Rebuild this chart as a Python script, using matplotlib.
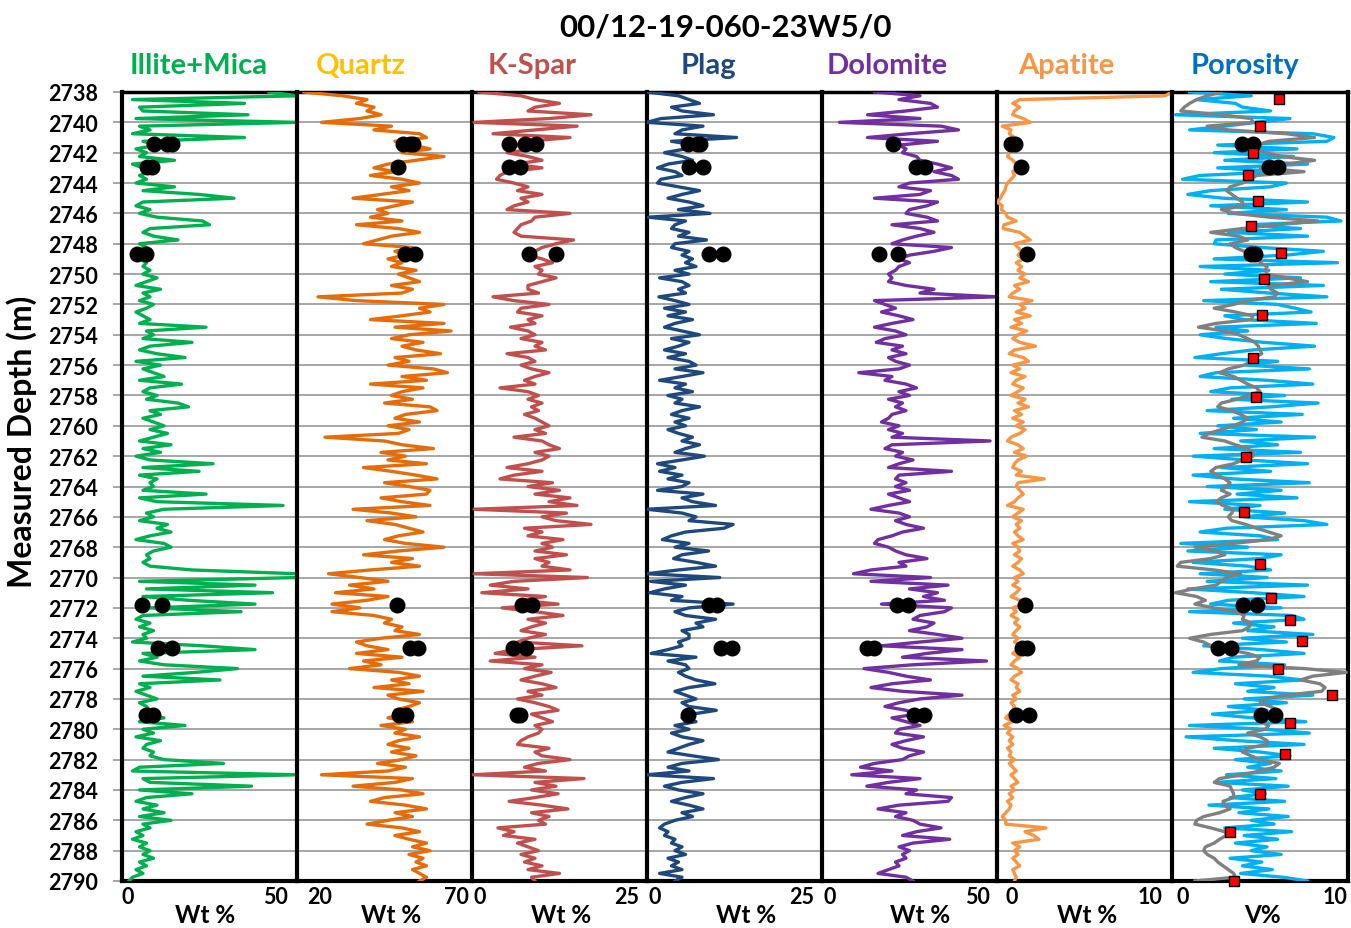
import numpy as np
import matplotlib.pyplot as plt

plt.rcParams['font.family'] = ['Lato', 'DejaVu Sans']
plt.rcParams['font.weight'] = 'bold'

# Well log curves, sampled every 0.25 m from 2738 to 2790 m (one row = 2 m).
illite = [42, 50, 3, 35, 5, 6, 36, 4,
          50, 5, 8, 3, 35, 6, 10, 4,
          7, 5, 15, 3, 6, 8, 5, 7,
          4, 15, 6, 22, 32, 6, 4, 8,
          5, 10, 23, 25, 8, 6, 9, 16,
          5, 7, 4, 3, 5, 7, 6, 8,
          6, 10, 7, 4, 11, 6, 8, 5,
          9, 7, 4, 6, 8, 5, 24, 7,
          9, 6, 20, 8, 5, 10, 18, 4,
          11, 6, 9, 12, 5, 17, 8, 6,
          10, 7, 16, 19, 8, 11, 6, 9,
          12, 8, 13, 9, 5, 14, 6, 11,
          4, 8, 26, 6, 22, 5, 10, 8,
          9, 6, 24, 5, 10, 46, 12, 7,
          9, 5, 13, 10, 14, 8, 4, 12,
          14, 9, 7, 8, 6, 8, 20, 50,
          50, 5, 38, 7, 43, 6, 19, 38,
          8, 34, 6, 4, 8, 5, 9, 6,
          7, 3, 23, 38, 6, 10, 5, 12,
          33, 21, 6, 28, 5, 8, 4, 7,
          10, 5, 7, 8, 6, 12, 5, 18,
          6, 9, 4, 11, 7, 6, 9, 8,
          12, 29, 5, 3, 50, 6, 8, 37,
          5, 20, 7, 4, 10, 6, 12, 5,
          14, 6, 8, 4, 6, 3, 7, 5,
          8, 6, 9, 5, 7, 4, 6, 3,
          2]

quartz = [22, 33, 40, 37, 42, 40, 44, 38,
          27, 47, 42, 55, 57, 48, 53, 58,
          50, 62, 54, 46, 42, 48, 41, 50,
          55, 47, 52, 44, 36, 53, 48, 43,
          46, 41, 50, 37, 49, 55, 47, 43,
          39, 53, 48, 51, 46, 50, 47, 54,
          49, 52, 55, 47, 53, 50, 26, 37,
          62, 55, 58, 50, 41, 62, 48, 64,
          52, 47, 56, 50, 54, 61, 48, 52,
          46, 59, 63, 50, 57, 41, 56, 50,
          47, 53, 45, 58, 60, 51, 48, 55,
          46, 52, 49, 28, 45, 50, 59, 44,
          51, 46, 57, 39, 47, 54, 60, 45,
          52, 58, 57, 44, 50, 58, 36, 47,
          54, 40, 48, 52, 56, 49, 45, 51,
          62, 49, 39, 53, 47, 55, 41, 29,
          38, 46, 35, 42, 31, 46, 40, 30,
          38, 30, 42, 47, 45, 50, 48, 55,
          44, 37, 40, 46, 37, 50, 39, 44,
          35, 49, 55, 47, 52, 42, 56, 46,
          49, 55, 52, 48, 50, 46, 53, 44,
          51, 48, 55, 49, 46, 52, 47, 54,
          50, 43, 51, 46, 27, 53, 48, 36,
          50, 56, 45, 41, 51, 57, 48, 53,
          46, 40, 50, 55, 48, 52, 57, 53,
          58, 52, 56, 54, 57, 53, 55, 57,
          55]

kspar = [1, 7, 9, 12.5, 9, 8, 17, 11,
         0.3, 15, 9, 3, 14, 8, 6, 9,
         5, 8, 10, 6, 10, 5, 4, 3.5,
         6, 8, 6.5, 10, 7, 8, 6, 5,
         14, 9, 8.5, 7, 6.5, 6, 7, 14.5,
         12, 10, 9, 8, 10, 11.5, 9, 10,
         9.5, 12, 10, 8, 8, 9.5, 3, 6,
         11, 7, 6.5, 10, 8, 9, 5.5, 8,
         9, 7, 10, 9, 10.5, 5, 8, 9,
         7, 8.5, 11, 9, 7.5, 9, 4, 8,
         9.5, 8, 10, 8.5, 9.5, 7.5, 9, 10,
         11, 9, 10.5, 6, 10, 11, 12.5, 9,
         11, 10, 8, 5, 10, 6, 4, 11.5,
         8, 12.5, 9, 14, 11, 15, 0.3, 13.5,
         10, 12, 17, 7.5, 10, 8, 13, 10,
         11.5, 9, 13.5, 9, 11, 10, 14, 0.3,
         16.5, 6, 2.6, 8, 1.4, 10.5, 7, 12.3,
         4.3, 9, 13, 8, 10.5, 8.5, 7, 10.5,
         8, 6.5, 15.7, 6, 3.3, 9, 2.6, 10,
         7.5, 11.3, 9, 7, 10, 12, 8, 10,
         6.5, 9, 11, 12.3, 8.5, 10, 11.5, 9,
         10, 9.5, 8, 7, 6.5, 11, 9, 10,
         14, 9.5, 7.5, 10.5, 0.2, 16, 9, 12,
         8.5, 12.3, 9, 5.3, 10, 13.7, 8.5, 11,
         9.5, 10.5, 3.7, 6, 4.5, 9, 6.5, 8,
         9.5, 7, 9, 7.5, 10, 8, 12.5, 8.5,
         9]

plag = [0, 4.5, 6, 7.5, 3.5, 5, 9.5, 2,
        0, 8, 5, 4, 12.8, 3.5, 7, 5.5,
        2.5, 5, 6.5, 3, 1.5, 4, 5, 2,
        1.5, 4.5, 7.5, 5, 3, 6, 8, 4.5,
        9, 0.2, 5.5, 4, 3.5, 6, 4.5, 8.5,
        4, 3.5, 6, 5, 6.5, 5.5, 7, 4,
        6, 1.8, 5, 6, 4.5, 5.5, 1.7, 4,
        6, 2.5, 5.5, 3, 6.5, 4, 2.5, 5,
        7.5, 3.5, 6, 4.5, 2.5, 5.5, 3, 6,
        7, 4, 8, 5, 1.8, 5.5, 4, 6.5,
        3, 5, 4, 7.5, 5, 3.5, 6, 4,
        5.5, 3, 4.5, 6.5, 5, 7.5, 5.5, 4,
        8.2, 5, 1.5, 4, 1.8, 5, 3, 6,
        5, 1.5, 8, 5, 6.5, 9.8, 0, 5,
        7, 6, 12.3, 11, 5.5, 3.5, 2.2, 6,
        4, 8.8, 5, 3.8, 7, 9.8, 4.5, 0,
        10.4, 0.5, 5.5, 2.5, 0.4, 5, 3.5, 12.3,
        6, 4, 5.5, 9.8, 7, 8, 5, 6,
        6, 4.5, 5, 3, 0.6, 7, 3, 5.5,
        6, 4.5, 5.5, 7, 9.7, 6, 4, 5.5,
        7, 5, 6, 9.9, 6.5, 5, 7, 4,
        6, 3.5, 5, 8, 6, 4.5, 3, 6.5,
        10.2, 5, 3, 6, 0, 9.5, 5, 2.5,
        4.5, 8, 5.5, 3.5, 6, 8, 5, 6.5,
        4, 2.5, 1.8, 3, 2.5, 4, 3.5, 5,
        4, 5.5, 3, 4.5, 3.5, 5, 1.8, 5,
        4]

dolomite = [15, 28, 22, 31, 33, 24, 13, 28,
            5, 34, 39, 25, 13, 33, 22, 24,
            23, 27, 28, 33, 37, 32, 37, 39,
            25, 22, 31, 28, 15, 33, 30, 25,
            24, 30, 33, 20, 28, 32, 27, 23,
            20, 37, 32, 25, 22, 25, 22, 21,
            19, 20, 19, 24, 32, 28, 50, 15,
            18, 21, 17, 22, 26, 20, 15, 21,
            24, 18, 15.5, 23, 20, 24, 19, 21,
            25, 22, 10.5, 20, 18, 24, 27, 22,
            25, 19, 23, 21, 24, 20, 19, 17,
            22, 19, 23, 20, 48, 20, 18, 23,
            21, 26, 22, 19, 37, 22, 21, 24,
            21, 25, 19, 22, 25, 19, 14, 22,
            25, 21, 24, 29, 23, 20, 16, 15,
            19, 21, 24, 30, 22, 24, 14, 9,
            31, 14, 36, 25, 33, 29, 35, 17,
            37, 35, 28, 26, 32, 30, 25, 33,
            40, 28, 17, 40, 30, 23, 47, 26,
            12, 19, 24, 31, 20, 14, 23, 40,
            28, 22, 18, 24, 27, 20, 24, 28,
            22, 21, 29, 24, 20, 23, 29, 25,
            23, 15, 11, 20, 8.5, 28, 19, 12.8,
            27, 24, 37, 36, 22, 16, 24, 21,
            26, 28, 34, 27, 23, 36.5, 26, 22,
            25, 23, 24, 21, 22, 19, 16, 24,
            26]

apatite = [10, 9.6, 1.3, 0.9, 1.3, 1.0, 0.9, 1.5,
           1.9, 0.3, 0.8, 0.7, 1.0, 0.6, 1.1, 0.8,
           0.7, 0.6, 0.9, 1.1, 1.2, 0.9, 1.0, 0.8,
           0.6, 0.5, 0.45, 0.3, 0.2, 0.0, 0.3, 0.25,
           0.5, 0.6, 1.1, 0.4, 0.35, 1.3, 1.6, 1.9,
           1.0, 1.2, 1.4, 1.2, 1.5, 1.1, 1.4, 1.2,
           1.6, 1.3, 1.8, 1.0, 1.3, 0.9, 0.7, 2.0,
           1.3, 1.6, 1.1, 1.9, 1.0, 1.4, 0.8, 1.7,
           1.2, 0.9, 1.3, 2.2, 1.0, 0.7, 1.5, 1.8,
           0.9, 1.3, 0.8, 1.6, 1.1, 0.9, 1.5, 1.2,
           0.8, 1.6, 1.2, 1.8, 1.0, 1.4, 0.9, 1.5,
           1.1, 1.6, 1.3, 0.8, 0.6, 1.2, 1.5, 1.0,
           1.7, 1.2, 1.0, 0.9, 1.4, 1.1, 2.7, 1.2,
           1.1, 1.3, 1.5, 1.2, 1.0, 0.6, 1.5, 1.2,
           0.9, 1.4, 1.1, 1.3, 1.0, 1.2, 1.5, 0.9,
           1.2, 1.3, 1.0, 1.4, 1.2, 0.9, 1.3, 1.5,
           1.0, 1.2, 0.9, 1.3, 1.1, 0.8, 1.3, 1.5,
           0.9, 1.1, 0.8, 1.2, 1.0, 1.3, 1.1, 0.9,
           1.2, 1.0, 1.4, 1.2, 0.9, 1.3, 1.0, 0.8,
           1.2, 1.4, 1.0, 0.8, 1.2, 1.1, 1.3, 0.9,
           1.1, 0.8, 1.0, 0.9, 0.7, 0.5, 0.9, 0.4,
           0.8, 0.6, 0.9, 0.7, 0.9, 0.6, 0.8, 0.7,
           1.0, 0.7, 0.9, 1.1, 0.8, 1.0, 1.2, 0.8,
           1.0, 0.7, 0.9, 0.6, 0.8, 0.7, 0.5, 0.3,
           0.5, 0.5, 2.8, 1.6, 2.1, 2.4, 0.9, 1.3,
           1.0, 1.2, 0.9, 1.1, 1.3, 0.9, 1.0, 1.1,
           1.0]

porosity_log = [1.0, 4.5, 1.4, 3.6, 4.0, 5.6, 0.2, 6.7,
                4.8, 3.0, 1.0, 8.0, 9.2, 8.8, 2.6, 7.1,
                2.4, 6.9, 3.0, 7.7, 2.6, 6.2, 1.6, 0.6,
                6.5, 5.6, 2.2, 0.9, 2.9, 7.7, 2.2, 6.5,
                3.2, 8.8, 9.6, 4.3, 7.3, 3.2, 7.7, 2.5,
                2.4, 5.1, 8.6, 6.5, 2.4, 9.4, 1.6, 5.5,
                3.0, 7.3, 2.2, 8.6, 2.8, 5.5, 8.8, 1.8,
                6.0, 7.0, 7.9, 3.0, 4.1, 8.2, 2.5, 4.3,
                1.6, 3.1, 5.2, 8.1, 4.6, 2.8, 1.3, 6.0,
                4.2, 7.8, 2.5, 1.6, 5.4, 8.0, 3.3, 2.2,
                6.4, 3.4, 8.3, 5.6, 2.0, 7.4, 3.5, 6.2,
                2.6, 4.8, 1.6, 8.1, 3.9, 6.0, 2.4, 7.3,
                1.2, 4.2, 7.7, 2.8, 5.6, 1.2, 3.5, 7.8,
                2.0, 6.2, 3.7, 7.1, 1.0, 5.0, 3.0, 6.4,
                4.1, 7.5, 8.8, 3.1, 1.6, 5.0, 6.0, 0.5,
                4.3, 0.9, 6.2, 5.0, 1.2, 4.3, 5.6, 1.6,
                5.4, 2.0, 7.7, 0.9, 4.6, 7.5, 3.2, 2.2,
                6.2, 1.0, 6.8, 7.5, 3.5, 5.8, 4.3, 8.0,
                4.0, 6.5, 1.8, 5.1, 7.5, 3.5, 2.7, 6.4,
                2.8, 1.2, 5.5, 7.4, 3.6, 5.8, 4.3, 8.0,
                4.1, 6.5, 3.2, 5.4, 2.3, 4.6, 7.6, 1.0,
                5.3, 7.8, 0.8, 3.7, 7.5, 2.4, 5.0, 6.7,
                3.6, 5.6, 4.3, 6.2, 3.1, 5.9, 2.5, 6.6,
                4.0, 5.3, 3.3, 6.4, 2.1, 5.5, 3.8, 6.6,
                4.5, 5.8, 3.0, 6.8, 4.1, 6.0, 3.6, 5.4,
                4.5, 6.2, 3.3, 5.1, 4.0, 5.7, 3.9, 6.3,
                7.7]

porosity_model = [2.8, 2.0, 1.4, 1.0, 0.7, 0.5, 2.8, 4.5,
                  4.6, 2.0, 3.2, 6.5, 8.1, 5.5, 4.8, 4.6,
                  5.3, 6.2, 8.1, 6.5, 5.0, 7.5, 4.8, 4.5,
                  4.0, 3.3, 3.1, 3.4, 3.7, 4.0, 4.1, 2.8,
                  3.6, 5.5, 8.3, 6.0, 4.0, 2.2, 3.8, 4.3,
                  3.3, 3.6, 4.1, 5.1, 5.0, 5.0, 5.4, 5.3,
                  5.4, 6.5, 7.7, 5.5, 5.6, 6.0, 5.8, 4.3,
                  3.5, 2.4, 3.6, 4.6, 4.5, 2.5, 1.5, 3.0,
                  3.8, 4.3, 4.7, 4.9, 5.0, 5.1, 4.7, 4.5,
                  4.1, 3.2, 2.7, 3.5, 3.9, 4.3, 4.8, 5.0,
                  4.3, 3.7, 2.8, 2.6, 3.4, 3.9, 4.3, 4.0,
                  3.5, 2.8, 2.1, 1.7, 3.0, 3.6, 4.3, 4.6,
                  4.6, 4.0, 3.5, 2.5, 2.2, 2.6, 3.0, 3.3,
                  3.1, 2.8, 3.3, 2.8, 2.5, 2.9, 3.5, 3.4,
                  3.2, 3.4, 4.2, 4.8, 5.5, 6.2, 5.5, 3.5,
                  1.3, 2.5, 3.0, 2.2, 0.5, 0.3, 2.4, 3.9,
                  3.1, 2.8, 2.5, 1.2, 0.2, 1.4, 1.9, 1.3,
                  2.4, 3.7, 4.1, 4.0, 4.5, 4.4, 4.0, 2.2,
                  1.0, 1.8, 2.2, 3.2, 4.3, 5.0, 4.8, 3.8,
                  7.5, 9.9, 8.0, 7.3, 8.4, 8.7, 8.5, 6.5,
                  5.3, 5.0, 5.6, 6.0, 5.4, 5.1, 5.0, 5.5,
                  5.3, 4.3, 5.0, 5.4, 5.4, 4.3, 4.0, 4.5,
                  5.0, 6.1, 5.8, 5.0, 4.0, 2.7, 2.4, 3.3,
                  3.4, 3.5, 3.5, 2.9, 3.0, 3.3, 2.7, 1.8,
                  1.4, 1.3, 2.2, 3.0, 3.1, 2.7, 2.4, 1.9,
                  1.8, 2.0, 2.4, 2.6, 2.9, 3.2, 3.5, 3.6,
                  1.3]

# Core measurements (XRD) - black dots
illite_core_depth = [2741.43, 2741.43, 2741.43, 2742.97, 2742.97, 2748.68, 2748.68,
                     2771.82, 2771.82, 2774.67, 2774.67, 2779.07, 2779.07]
illite_core = [9.1, 12.9, 14.3, 7.1, 8.6, 4.2, 6.8, 5.8, 11.3, 10.2, 14.2, 6.8, 8.8]
quartz_core_depth = [2741.43, 2741.43, 2741.43, 2742.97, 2748.68, 2748.68,
                     2771.82, 2774.67, 2774.67, 2779.07, 2779.07]
quartz_core = [50.4, 52.3, 53.2, 48.9, 50.9, 53.7, 48.7, 52.3, 54.7, 49.2, 51.1]
kspar_core_depth = [2741.43, 2741.43, 2741.43, 2742.97, 2742.97, 2748.68, 2748.68,
                    2771.82, 2771.82, 2774.67, 2774.67, 2779.07, 2779.07]
kspar_core = [5.3, 7.6, 9.1, 5.3, 6.9, 8.1, 12.0, 7.2, 8.5, 5.9, 7.7, 6.4, 6.8]
plag_core_depth = [2741.43, 2741.43, 2741.43, 2742.97, 2742.97, 2748.68, 2748.68,
                   2771.82, 2771.82, 2774.67, 2774.67, 2779.07]
plag_core = [5.9, 7.1, 7.6, 6.0, 8.05, 8.9, 10.8, 8.9, 10.0, 10.6, 12.2, 5.8]
dolomite_core_depth = [2741.43, 2742.97, 2742.97, 2748.68, 2748.68,
                       2771.82, 2771.82, 2774.67, 2774.67, 2779.07, 2779.07]
dolomite_core = [20.4, 26.9, 29.4, 16.3, 21.6, 21.5, 24.7, 12.8, 15.0, 26.3, 29.2]
apatite_core_depth = [2741.43, 2741.43, 2742.97, 2748.68, 2771.82,
                      2774.67, 2774.67, 2779.07, 2779.07]
apatite_core = [0.78, 1.03, 1.35, 1.69, 1.59, 1.4, 1.73, 1.07, 1.85]
porosity_core_depth = [2741.43, 2741.43, 2742.97, 2742.97, 2748.68, 2748.68,
                       2771.82, 2771.82, 2774.67, 2774.67, 2779.07, 2779.07]
porosity_core = [3.97, 4.6, 5.49, 6.0, 4.5, 4.7, 4.01, 4.82, 2.62, 3.36, 5.07, 5.83]

# Core plug porosity - red squares
plug_depth = [2738.46, 2740.26, 2742.02, 2743.47, 2745.2, 2746.85, 2748.61, 2750.33,
              2752.68, 2755.56, 2758.13, 2762.04, 2765.66, 2769.11, 2771.33, 2772.83,
              2774.17, 2776.0, 2777.76, 2779.57, 2781.64, 2784.25, 2786.76, 2789.99]
plug_porosity = [6.1, 5.0, 4.6, 4.3, 4.9, 4.5, 6.2, 5.2, 5.1, 4.6, 4.8, 4.2,
                 4.1, 5.0, 5.6, 6.7, 7.4, 6.0, 9.1, 6.7, 6.4, 5.0, 3.3, 3.5]

top_depth, base_depth = 2738, 2790


def depth_for(values):
    return np.linspace(top_depth, base_depth, len(values))


# panel: title, title colour, curves [(values, colour)], core (depth, values), x range, x label
panels = [
    ('Illite+Mica', '#00B050', [(illite, '#00B050')], (illite_core_depth, illite_core), (0, 50), 'Wt %'),
    ('Quartz', '#FFC000', [(quartz, '#E46C0A')], (quartz_core_depth, quartz_core), (20, 70), 'Wt %'),
    ('K-Spar', '#C0504D', [(kspar, '#C0504D')], (kspar_core_depth, kspar_core), (0, 25), 'Wt %'),
    ('Plag', '#1F497D', [(plag, '#1F497D')], (plag_core_depth, plag_core), (0, 25), 'Wt %'),
    ('Dolomite', '#7030A0', [(dolomite, '#7030A0')], (dolomite_core_depth, dolomite_core), (0, 50), 'Wt %'),
    ('Apatite', '#F79646', [(apatite, '#F79646')], (apatite_core_depth, apatite_core), (0, 10), 'Wt %'),
    ('Porosity', '#0070C0', [(porosity_log, '#00B0F0'), (porosity_model, '#808080')],
     (porosity_core_depth, porosity_core), (0, 10), 'V%'),
]

# Layout in pixels of the 1351 x 929 picture
W, H = 1351, 929
panel_left = [122, 297, 472, 647, 822, 997, 1172]
panel_w = 175
plot_top, plot_bottom = 93, 882
title_x = [199, 361, 532, 708, 887, 1066, 1245]
low_x = [128, 320, 480, 655, 830, 1012, 1183]
high_x = [275, 456, 627, 802, 977, 1150, 1335]
xlabel_x = [205, 391, 561, 746, 920, 1087, 1262]


def fx(x):
    return x / W


def fy(y):
    return 1 - y / H


fig = plt.figure(figsize=(W / 100, H / 100), dpi=100)

for i, (name, tcolor, curves, core, xr, xlab) in enumerate(panels):
    width = panel_w + (1 if i == len(panels) - 1 else 0)
    ax = fig.add_axes([fx(panel_left[i]), fy(plot_bottom), width / W, (plot_bottom - plot_top) / H])
    ax.set_xlim(*xr)
    ax.set_ylim(base_depth, top_depth)
    ax.set_yticks(np.arange(top_depth, base_depth + 1, 2))
    ax.set_xticks([])
    ax.grid(axis='y', color='#A6A6A6', linewidth=1.4)
    ax.set_axisbelow(True)

    for values, c in curves:
        ax.plot(values, depth_for(values), color=c, linewidth=2.4, solid_joinstyle='round', zorder=3)

    if name == 'Porosity':
        ax.plot(plug_porosity, plug_depth, 's', color='#FF0000', markeredgecolor='black',
                markeredgewidth=1.0, markersize=7.5, zorder=6, clip_on=False)
    ax.plot(core[1], core[0], 'o', color='black', markersize=10.5, zorder=5, clip_on=False)

    for side in ['left', 'bottom']:
        ax.spines[side].set_linewidth(3)
    ax.spines['top'].set_linewidth(2.5)
    ax.spines['right'].set_visible(i == len(panels) - 1)
    ax.spines['right'].set_linewidth(3)

    if i == 0:
        ax.tick_params(axis='y', length=6.5, width=1.4, color='#A6A6A6', pad=11, labelsize=15.5)
        for lbl in ax.get_yticklabels():
            lbl.set_fontweight('bold')
    else:
        ax.tick_params(axis='y', left=False, labelleft=False)

    fig.text(fx(title_x[i]), fy(66), name, color=tcolor, fontsize=21, fontweight='bold',
             ha='center', va='center')
    fig.text(fx(low_x[i]), fy(898), f'{xr[0]}', fontsize=15.5, fontweight='bold', ha='center', va='center')
    fig.text(fx(high_x[i]), fy(898), f'{xr[1]}', fontsize=15.5, fontweight='bold', ha='center', va='center')
    fig.text(fx(xlabel_x[i]), fy(916), xlab, fontsize=17.5, fontweight='bold', ha='center', va='center')

fig.text(fx(725), fy(28), '00/12-19-060-23W5/0', fontsize=22.5, fontweight='bold', ha='center', va='center')
fig.text(fx(22), fy(442), 'Measured Depth (m)', fontsize=23, fontweight='bold', rotation=90,
         ha='center', va='center')

fig.savefig('out.png', dpi=100)
